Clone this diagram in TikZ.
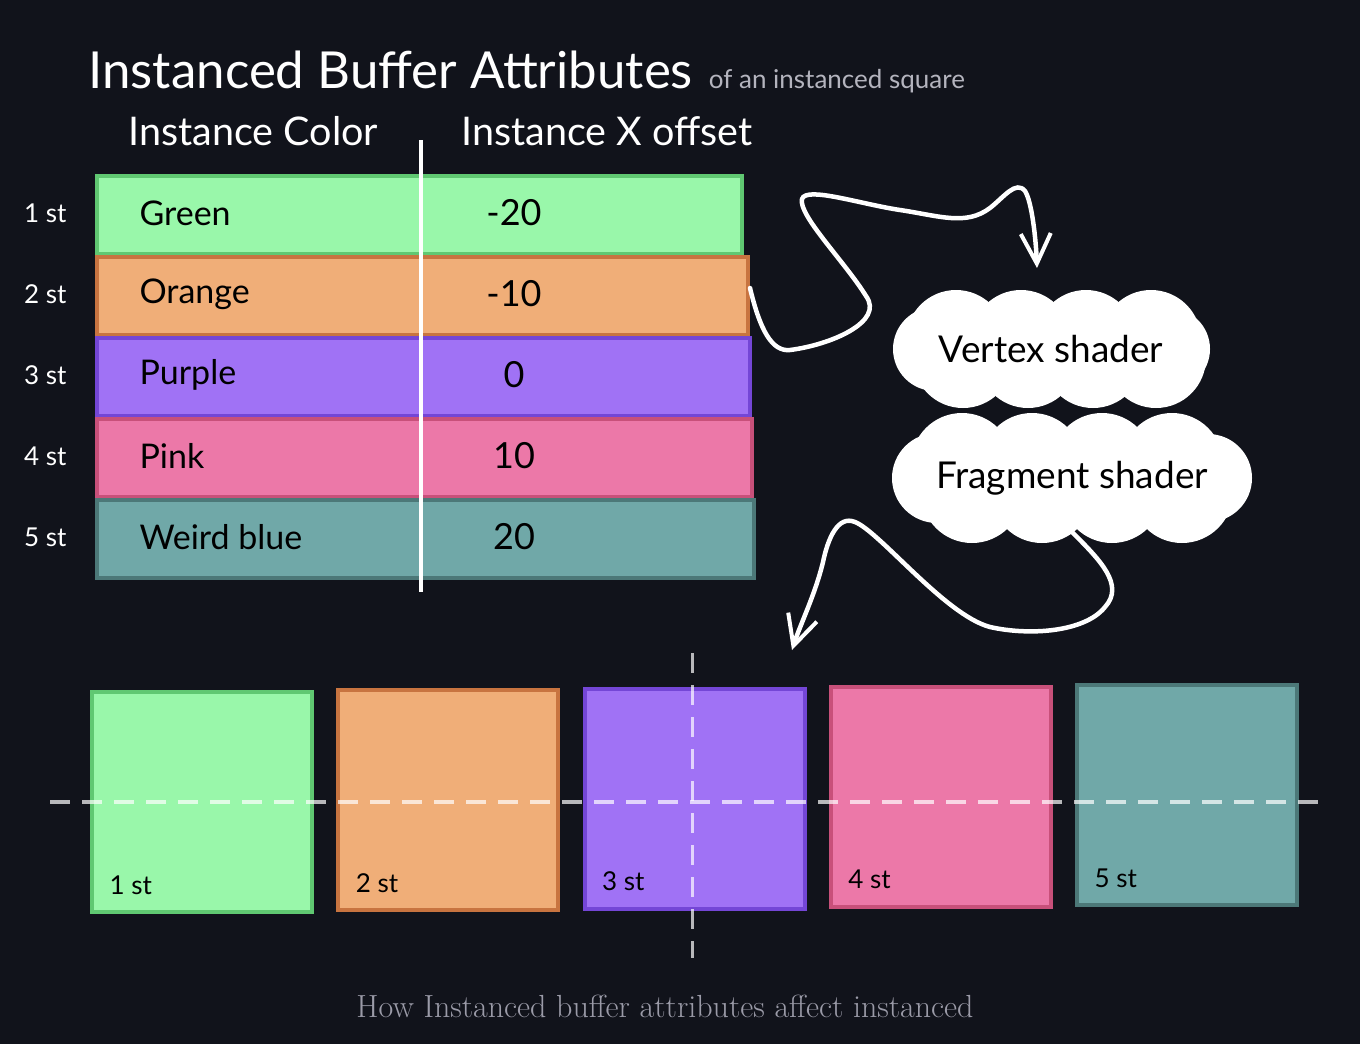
\documentclass[tikz,border=0pt]{standalone}
\usepackage{fontspec}
\newfontfamily\handfont{Lato}
\usetikzlibrary{arrows.meta,positioning}
\definecolor{bg}{HTML}{11131B}
\definecolor{greenfill}{HTML}{99F7AA}
\definecolor{greenline}{HTML}{60C872}
\definecolor{orangefill}{HTML}{F0AE78}
\definecolor{orangeline}{HTML}{C87440}
\definecolor{purplefill}{HTML}{A072F5}
\definecolor{purpleline}{HTML}{7446D6}
\definecolor{pinkfill}{HTML}{EC78A8}
\definecolor{pinkline}{HTML}{C8507A}
\definecolor{tealfill}{HTML}{70A8A8}
\definecolor{tealline}{HTML}{4C7878}
\definecolor{captiongray}{HTML}{9B9BA8}
\definecolor{subgray}{HTML}{B4B4BE}
\newcommand\hand[1]{\handfont\fontsize{#1}{#1}\selectfont}

\begin{document}
\begin{tikzpicture}[x=1pt, y=-1pt,
  title/.style = {anchor=base west, text=white, font=\hand{51pt}},
  subtitle/.style = {anchor=base west, text=subgray, font=\hand{26pt}},
  header/.style = {anchor=base west, text=white, font=\hand{39.5pt}},
  rowlabel/.style = {anchor=east, text=white, font=\hand{26pt}},
  band/.style = {draw=#1line, fill=#1fill, line width=4pt, anchor=north west,
    minimum height=78pt, inner sep=0pt},
  celltext/.style = {anchor=west, text=black, font=\hand{34pt}},
  cellvalue/.style = {text=black, font=\hand{36pt}},
  instance/.style = {draw=#1line, fill=#1fill, line width=4pt, anchor=north west,
    minimum size=220pt, inner sep=0pt},
  corner/.style = {anchor=base west, text=black, font=\hand{26pt}},
  puff/.style = {fill=white},
  shader/.style = {text=black, font=\hand{37pt}, inner sep=0pt},
  flow/.style = {draw=white, line width=4.5pt, line cap=round,
    -{Straight Barb[length=30pt, width=30pt, line width=4pt]}},
  guide/.style = {draw=white, draw opacity=0.7, line width=4pt,
    dash pattern=on 20pt off 12pt}]
  \useasboundingbox (0,0) rectangle (1360,1044);
  \fill[bg] (0,0) rectangle (1360,1044);

  \node[title] (title) at (85,88) {Instanced Buffer Attributes};
  \node[subtitle, right=9pt of title.base east, anchor=base west] (subtitle) {of an instanced square};
  \node[header] (colorhead) at (125,145) {Instance Color};
  \node[header] (offsethead) at (458,145) {Instance X offset};

  \foreach \i/\name/\clr/\val/\w in {1/Green/green/-20/645, 2/Orange/orange/-10/651,
      3/Purple/purple/0/653, 4/Pink/pink/10/655, 5/Weird blue/teal/20/657} {
    \node[band=\clr, minimum width=\w pt] (row\i) at (95, 93+81*\i) {};
    \node[celltext] (name\i) at (136, 132+81*\i) {\name};
    \node[cellvalue] (value\i) at (514, 132+81*\i) {\val};
    \node[rowlabel] (label\i) at (70, 132+81*\i) {\i\ st};
  }
  \draw[white, line width=4pt] (421,140) -- (421,592);

  \coordinate (vertextip) at (1037,268);
  \draw[flow] ([yshift=8pt]row2.east) .. controls (760,330) and (772,352) .. (790,350)
    .. controls (830,345) and (885,322) .. (866,296)
    .. controls (845,262) and (798,215) .. (802,199)
    .. controls (806,186) and (860,204) .. (900,210)
    .. controls (940,216) and (966,226) .. (990,208)
    .. controls (1004,197) and (1016,180) .. (1025,191)
    .. controls (1032,202) and (1036,240) .. (vertextip);

  \coordinate (vertexmid) at (1051,349);
  \fill[puff] ([shift={(-110,-40)}]vertexmid) rectangle ([shift={(110,40)}]vertexmid);
  \foreach \dx in {-95,-30,35,100}
    \fill[puff] ([shift={(\dx,-9)}]vertexmid) circle[radius=50pt];
  \foreach \dx in {-88,-23,42,105}
    \fill[puff] ([shift={(\dx,9)}]vertexmid) circle[radius=50pt];
  \fill[puff] ([shift={(-116,0)}]vertexmid) circle[radius=42pt];
  \fill[puff] ([shift={(118,0)}]vertexmid) circle[radius=41pt];
  \node[shader] (vertex) at (vertexmid) {Vertex shader};

  \coordinate (fragmentmid) at (1072,478);
  \fill[puff] ([shift={(-120,-45)}]fragmentmid) rectangle ([shift={(120,45)}]fragmentmid);
  \foreach \dx in {-110,-40,30,100}
    \fill[puff] ([shift={(\dx,-14)}]fragmentmid) circle[radius=51pt];
  \foreach \dx in {-100,-30,40,110}
    \fill[puff] ([shift={(\dx,14)}]fragmentmid) circle[radius=51pt];
  \fill[puff] ([shift={(-135,0)}]fragmentmid) circle[radius=45pt];
  \fill[puff] ([shift={(136,0)}]fragmentmid) circle[radius=44pt];
  \node[shader] (fragment) at (fragmentmid) {Fragment shader};

  \coordinate (fragmenttail) at (1072,532);
  \coordinate (squaretip) at (792,650);
  \draw[flow] (fragmenttail) .. controls (1100,560) and (1125,585) .. (1105,607)
    .. controls (1085,632) and (1030,636) .. (990,627)
    .. controls (945,615) and (880,532) .. (855,522)
    .. controls (838,515) and (828,538) .. (823,562)
    .. controls (815,595) and (800,625) .. (squaretip);

  \foreach \i/\clr in {1/green, 2/orange, 3/purple, 4/pink, 5/teal} {
    \node[instance=\clr] (square\i) at (90+246.3*\i-246.3, 691.75-1.75*\i) {};
    \node[corner] (corner\i) at ([shift={(16pt,20pt)}]square\i.south west) {\i\ st};
  }
  \draw[guide] (50,802) -- (1322,802);
  \draw[guide, line width=3pt] (692,653) -- (692,958);

  \node[text=captiongray, font=\fontsize{32pt}{34pt}\selectfont] (caption) at (665,1006)
    {How Instanced buffer attributes affect instanced};
\end{tikzpicture}
\end{document}
